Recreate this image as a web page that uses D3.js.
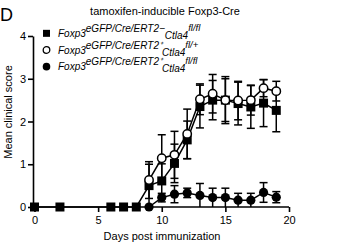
<!DOCTYPE html>
<html>
<head>
<meta charset="utf-8">
<script src="https://cdn.jsdelivr.net/npm/d3@7"></script>
<style>
  body { margin: 0; background: #fff; }
  svg { display: block; font-family: "Liberation Sans", Arial, sans-serif; }
</style>
</head>
<body>
<div id="chart"></div>
<script>
// values (mean ± SEM clinical score)
const squareDays = [0, 2, 6, 7, 8, 9, 10, 11, 12, 13, 14, 15, 16, 17, 18, 19];
const squareMean = [0, 0, 0, 0, 0, 0.5, 0.61, 1.02, 1.57, 2.35, 2.5, 2.5, 2.42, 2.34, 2.43, 2.26];
const squareSem  = [0, 0, 0, 0, 0, 0.5, 0.4, 0.45, 0.44, 0.5, 0.46, 0.5, 0.5, 0.5, 0.55, 0.5];

const openDays = [9, 10, 11, 12, 13, 14, 15, 16, 17, 18, 19];
const openMean = [0.63, 1.14, 1.22, 1.71, 2.52, 2.65, 2.5, 2.49, 2.5, 2.78, 2.71];
const openSem  = [0.43, 0.55, 0.55, 0.58, 0.36, 0.45, 0.55, 0.45, 0.35, 0.2, 0.23];

const filledDays = [9, 10, 11, 12, 13, 14, 15, 16, 17, 18, 19];
const filledMean = [0, 0.22, 0.3, 0.33, 0.27, 0.22, 0.22, 0.16, 0.16, 0.34, 0.23];
const filledSem  = [0, 0.1, 0.2, 0.11, 0.28, 0.22, 0.22, 0.16, 0.16, 0.23, 0.13];

const xTicks = [0, 5, 10, 15, 20];
const yTicks = [0, 1, 2, 3, 4];

// legend text split in pieces: [base, superscript, subscript, superscript]
const legendRows = [
  { shape: "square", parts: ["Foxp3", "eGFP/Cre/ERT2\u2212", "Ctla4", "fl/fl"] },
  { shape: "open",   parts: ["Foxp3", "eGFP/Cre/ERT2\u207A", "Ctla4", "fl/+"] },
  { shape: "filled", parts: ["Foxp3", "eGFP/Cre/ERT2\u207A", "Ctla4", "fl/fl"] }
];

const width = 349, height = 244;

const svg = d3.select("#chart").append("svg")
  .attr("width", width)
  .attr("height", height);

const x = d3.scaleLinear().domain([0, 20]).range([34.5, 289]);
const y = d3.scaleLinear().domain([0, 4]).range([207, 36]);

// panel letter + title
svg.append("text")
  .attr("x", 0).attr("y", 21)
  .attr("font-size", 18)
  .text("D");

svg.append("text")
  .attr("x", 165).attr("y", 15)
  .attr("text-anchor", "middle")
  .attr("font-size", 11)
  .text("tamoxifen-inducible Foxp3-Cre");

// axes
const xAxis = svg.append("g")
  .attr("transform", `translate(0,${y(0)})`)
  .call(d3.axisBottom(x).tickValues(xTicks).tickFormat(d3.format("d"))
    .tickSize(5).tickPadding(4).tickSizeOuter(0));

const yAxis = svg.append("g")
  .attr("transform", `translate(33,0)`)
  .call(d3.axisLeft(y).tickValues(yTicks).tickFormat(d3.format("d"))
    .tickSize(5).tickPadding(2).tickSizeOuter(0));

[xAxis, yAxis].forEach(g => {
  g.select(".domain").attr("stroke", "#000").attr("stroke-width", 1.6);
  g.selectAll(".tick line").attr("stroke", "#000").attr("stroke-width", 1.6);
  g.selectAll(".tick text").attr("font-size", 11).attr("fill", "#000")
    .attr("font-family", "Liberation Sans, Arial, sans-serif");
});
xAxis.select(".domain").attr("d", `M33,0H${x(20)}`);

svg.append("text")
  .attr("x", 162).attr("y", 240)
  .attr("text-anchor", "middle")
  .attr("font-size", 11)
  .text("Days post immunization");

svg.append("text")
  .attr("transform", "translate(12,112) rotate(-90)")
  .attr("text-anchor", "middle")
  .attr("font-size", 11)
  .text("Mean clinical score");

// one series: error bars, connecting line, markers
function drawSeries(days, mean, sem, shape) {
  const pts = days.map((d, i) => ({ d, m: mean[i], s: sem[i] }));
  const g = svg.append("g");
  const capW = 4;

  const bars = g.selectAll(".err").data(pts.filter(p => p.s > 0)).enter().append("g");
  bars.append("line")
    .attr("x1", p => x(p.d)).attr("x2", p => x(p.d))
    .attr("y1", p => y(p.m + p.s)).attr("y2", p => y(Math.max(0, p.m - p.s)))
    .attr("stroke", "#000").attr("stroke-width", 1.5);
  bars.append("line")
    .attr("x1", p => x(p.d) - capW).attr("x2", p => x(p.d) + capW)
    .attr("y1", p => y(p.m + p.s)).attr("y2", p => y(p.m + p.s))
    .attr("stroke", "#000").attr("stroke-width", 1.5);
  bars.filter(p => p.m - p.s > 0).append("line")
    .attr("x1", p => x(p.d) - capW).attr("x2", p => x(p.d) + capW)
    .attr("y1", p => y(p.m - p.s)).attr("y2", p => y(p.m - p.s))
    .attr("stroke", "#000").attr("stroke-width", 1.5);

  g.append("path")
    .datum(pts)
    .attr("fill", "none")
    .attr("stroke", "#000")
    .attr("stroke-width", 1.5)
    .attr("d", d3.line().x(p => x(p.d)).y(p => y(p.m)));

  const marks = g.selectAll(".pt").data(pts).enter();
  if (shape === "square") {
    marks.append("rect")
      .attr("x", p => x(p.d) - 4.5).attr("y", p => y(p.m) - 4.5)
      .attr("width", 9).attr("height", 9)
      .attr("fill", "#000");
  } else {
    marks.append("circle")
      .attr("cx", p => x(p.d)).attr("cy", p => y(p.m))
      .attr("r", shape === "open" ? 4.2 : 4.6)
      .attr("fill", shape === "open" ? "#fff" : "#000")
      .attr("stroke", "#000")
      .attr("stroke-width", shape === "open" ? 1.5 : 0);
  }
}

drawSeries(filledDays, filledMean, filledSem, "filled");
drawSeries(squareDays, squareMean, squareSem, "square");
drawSeries(openDays, openMean, openSem, "open");

// legend
const legend = svg.append("g");
const rowY = d3.scaleBand().domain(legendRows.map((r, i) => i)).range([25, 75]);

const row = legend.selectAll(".lg").data(legendRows).enter().append("g")
  .attr("transform", (r, i) => `translate(0,${rowY(i) + rowY.bandwidth() / 2})`);

row.each(function (r) {
  const g = d3.select(this);
  if (r.shape === "square") {
    g.append("rect").attr("x", 43).attr("y", -3.5).attr("width", 7).attr("height", 7).attr("fill", "#000");
  } else {
    g.append("circle").attr("cx", 46.5).attr("cy", 0).attr("r", r.shape === "open" ? 3.3 : 3.8)
      .attr("fill", r.shape === "open" ? "#fff" : "#000")
      .attr("stroke", "#000").attr("stroke-width", r.shape === "open" ? 1.3 : 0);
  }
  const t = g.append("text")
    .attr("x", 58).attr("y", 3.5)
    .attr("font-size", 10)
    .attr("font-style", "italic");
  t.append("tspan").text(r.parts[0]);
  t.append("tspan").attr("dy", -5).text(r.parts[1]);
  t.append("tspan").attr("dy", 7).text(r.parts[2]);
  t.append("tspan").attr("dy", -8).attr("font-size", 9.5).text(r.parts[3]);
});
</script>
</body>
</html>
